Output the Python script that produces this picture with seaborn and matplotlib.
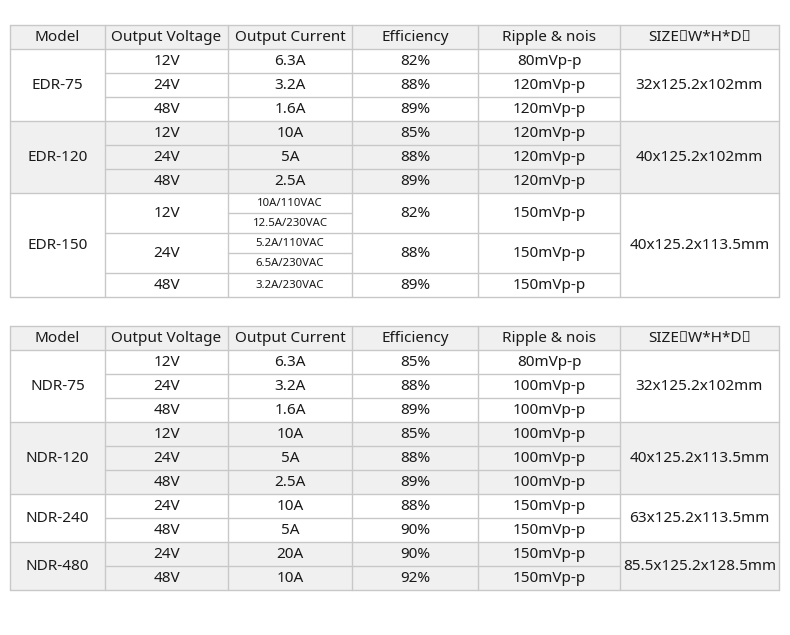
import matplotlib
matplotlib.use("Agg")
import matplotlib.pyplot as plt
import seaborn as sns

sns.set_theme(style="white")

headers = ["Model", "Output Voltage", "Output Current", "Efficiency", "Ripple & nois", "SIZE（W*H*D）"]

edr_models = ["EDR-75", "EDR-120", "EDR-150"]
edr_voltages = [["12V", "24V", "48V"], ["12V", "24V", "48V"], ["12V", "24V", "48V"]]
edr_currents = [["6.3A", "3.2A", "1.6A"], ["10A", "5A", "2.5A"],
                [["10A/110VAC", "12.5A/230VAC"], ["5.2A/110VAC", "6.5A/230VAC"], ["3.2A/230VAC"]]]
edr_eff = [["82%", "88%", "89%"], ["85%", "88%", "89%"], ["82%", "88%", "89%"]]
edr_ripple = [["80mVp-p", "120mVp-p", "120mVp-p"], ["120mVp-p", "120mVp-p", "120mVp-p"],
              ["150mVp-p", "150mVp-p", "150mVp-p"]]
edr_size = ["32x125.2x102mm", "40x125.2x102mm", "40x125.2x113.5mm"]

ndr_models = ["NDR-75", "NDR-120", "NDR-240", "NDR-480"]
ndr_voltages = [["12V", "24V", "48V"], ["12V", "24V", "48V"], ["24V", "48V"], ["24V", "48V"]]
ndr_currents = [["6.3A", "3.2A", "1.6A"], ["10A", "5A", "2.5A"], ["10A", "5A"], ["20A", "10A"]]
ndr_eff = [["85%", "88%", "89%"], ["85%", "88%", "89%"], ["88%", "90%"], ["90%", "92%"]]
ndr_ripple = [["80mVp-p", "100mVp-p", "100mVp-p"], ["100mVp-p", "100mVp-p", "100mVp-p"],
              ["150mVp-p", "150mVp-p"], ["150mVp-p", "150mVp-p"]]
ndr_size = ["32x125.2x102mm", "40x125.2x113.5mm", "63x125.2x113.5mm", "85.5x125.2x128.5mm"]

edr_shaded = [False, True, False]
ndr_shaded = [False, True, False, True]

cols = [10, 105, 228, 352, 478, 620, 779]
ROW = 24
SUB = 20
LINE = "#c8c8c8"
SHADE = "#f0f0f0"
FONT = ["Noto Sans", "Noto Sans CJK SC"]
FS = 11
FS_SMALL = 8.2
TXT = "#1a1a1a"

fig = plt.figure(figsize=(7.9, 6.35), dpi=100)
ax = fig.add_axes([0, 0, 1, 1])
ax.set_xlim(0, 790)
ax.set_ylim(635, 0)
ax.axis("off")


def rect(x0, y0, x1, y1, color):
    ax.fill_between([x0, x1], y0, y1, color=color, lw=0, zorder=0)


def hline(x0, x1, y):
    ax.plot([x0, x1], [y, y], color=LINE, lw=1, zorder=1)


def vline(x, y0, y1):
    ax.plot([x, x], [y0, y1], color=LINE, lw=1, zorder=1)


def text(x0, x1, y0, y1, s, fs=FS):
    ax.text((x0 + x1) / 2, (y0 + y1) / 2 + 0.5, s, ha="center", va="center",
            fontsize=fs, family=FONT, color=TXT, zorder=2)


def draw_table(top, models, volts, currs, effs, ripples, sizes, shaded):
    rect(cols[0], top, cols[-1], top + ROW, SHADE)
    for i, h in enumerate(headers):
        text(cols[i], cols[i + 1], top, top + ROW, h)
    y = top + ROW
    hline(cols[0], cols[-1], y)
    for m in range(len(models)):
        heights = []
        for c in currs[m]:
            heights.append(SUB * len(c) if isinstance(c, list) and len(c) > 1 else ROW)
        total = sum(heights)
        if shaded[m]:
            rect(cols[0], y, cols[-1], y + total, SHADE)
        text(cols[0], cols[1], y, y + total, models[m])
        text(cols[5], cols[6], y, y + total, sizes[m])
        yy = y
        for r, h in enumerate(heights):
            text(cols[1], cols[2], yy, yy + h, volts[m][r])
            c = currs[m][r]
            if isinstance(c, list):
                sh = h / len(c)
                for k, s in enumerate(c):
                    text(cols[2], cols[3], yy + k * sh, yy + (k + 1) * sh, s, FS_SMALL)
                    if k > 0:
                        hline(cols[2], cols[3], yy + k * sh)
            else:
                text(cols[2], cols[3], yy, yy + h, c)
            text(cols[3], cols[4], yy, yy + h, effs[m][r])
            text(cols[4], cols[5], yy, yy + h, ripples[m][r])
            if r < len(heights) - 1:
                hline(cols[1], cols[5], yy + h)
            yy += h
        y += total
        hline(cols[0], cols[-1], y)
    hline(cols[0], cols[-1], top)
    for x in cols:
        vline(x, top, y)


draw_table(25, edr_models, edr_voltages, edr_currents, edr_eff, edr_ripple, edr_size, edr_shaded)
draw_table(326, ndr_models, ndr_voltages, ndr_currents, ndr_eff, ndr_ripple, ndr_size, ndr_shaded)

fig.savefig("out.png", dpi=100, facecolor="white")
